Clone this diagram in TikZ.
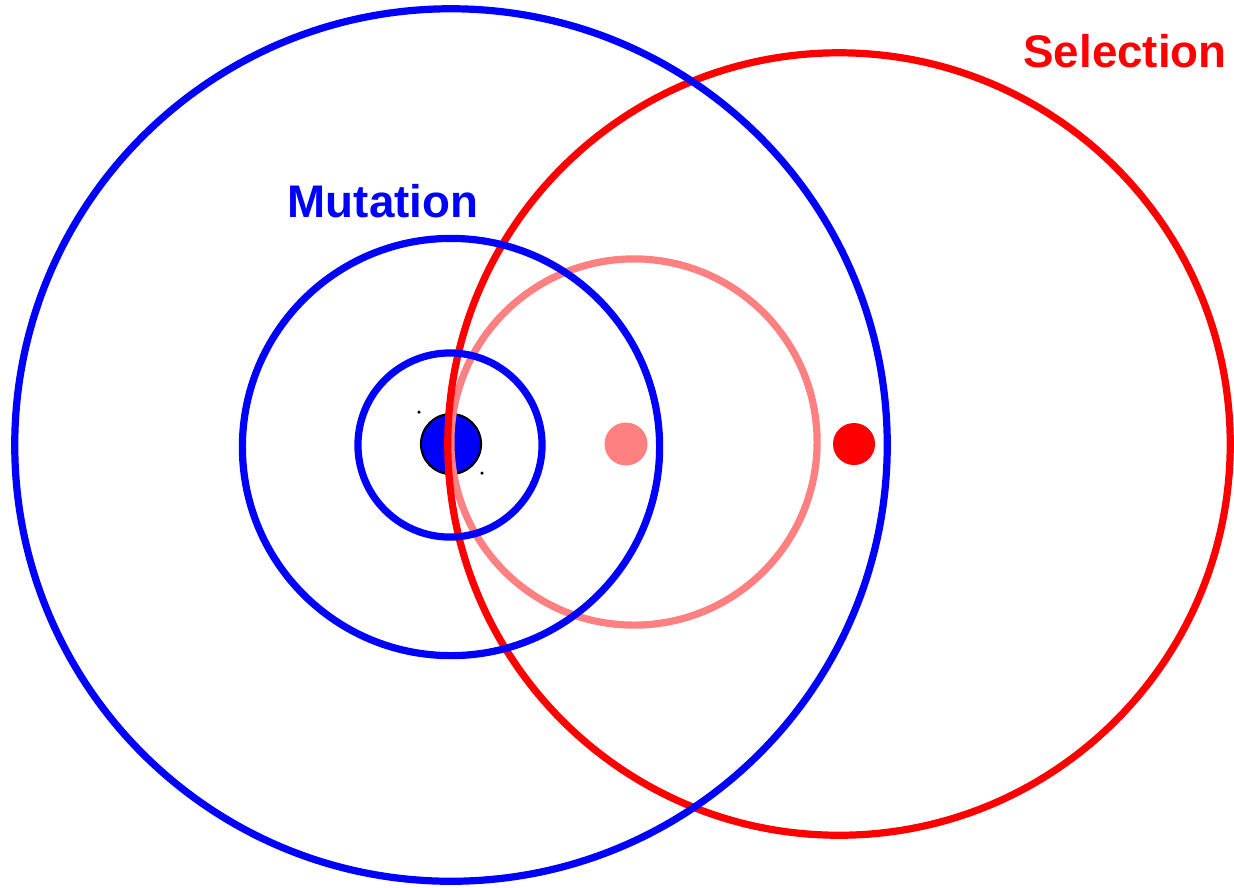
\documentclass[tikz,border=0pt]{standalone}
\usepackage{fontspec}
\setmainfont{Liberation Sans}
\usepackage{xcolor}
\usetikzlibrary{positioning}

\begin{document}
\begin{tikzpicture}[
			x=0.01cm, y=-0.01cm,
			ring/.style={draw, circle, line width=2.05pt, inner sep=0pt},
			dot/.style={circle, inner sep=0pt},
			label/.style={font=\fontsize{13}{15}\selectfont\bfseries, anchor=base}
			]
	\useasboundingbox (0,0) rectangle (1234,887);

	%% Ponto central
	\node[dot, fill=blue, draw=black, line width=0.6pt, minimum size=0.60cm] (origem) at (451,444) {};
	\node[dot, fill=black, minimum size=0.035cm] (p1) at (419,412) {};
	\node[dot, fill=black, minimum size=0.035cm] (p2) at (482,473) {};

	%% Selecao
	\node[ring, draw=red!50, minimum size=3.66cm] (alvoA) at (634,442) {};
	\node[ring, draw=red, minimum size=7.82cm] (alvoB) at (839,444) {};
	\node[dot, fill=red!50, minimum size=0.43cm] (pontoA) at (626,444) {};
	\node[dot, fill=red, minimum size=0.42cm] (pontoB) at (854,444) {};

	%% Mutacao
	\node[ring, draw=blue, minimum size=1.84cm] (mutA) at (450,445) {};
	\node[ring, draw=blue, minimum size=4.17cm] (mutB) at (451,447) {};
	\node[ring, draw=blue, minimum size=8.72cm] (mutC) at (451,445) {};

	%% Rotulos
	\node[label, text=blue] (tMut) at (383,217) {Mutation};
	\node[label, text=red] (tSel) at (1125,67) {Selection};
\end{tikzpicture}
\end{document}
